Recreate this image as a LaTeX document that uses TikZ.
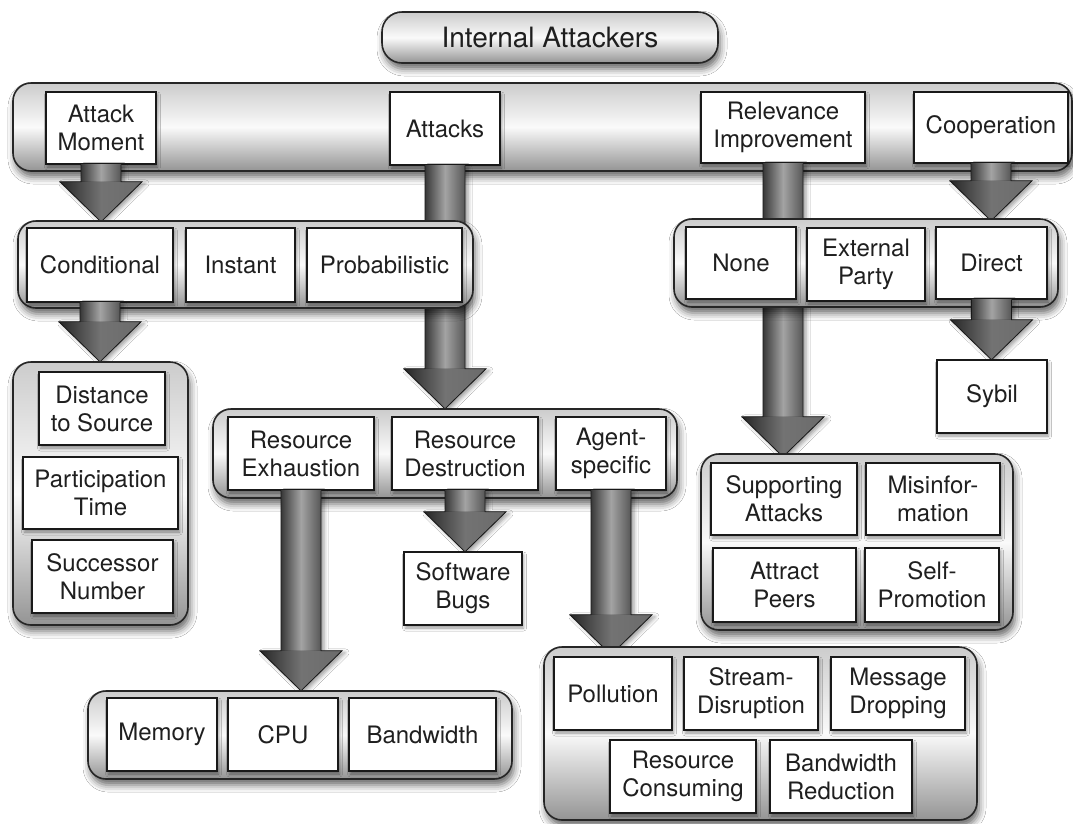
\documentclass[tikz,border=0pt]{standalone}
\usepackage{fontspec}
\newfontfamily\labelfont{TeX Gyre Heros}
\usetikzlibrary{calc,shadows.blur}

\tikzset{
  sz/.style 2 args={minimum width=#1pt, minimum height=#2pt},
  slot/.style={inner sep=0pt, draw=none, fill=none},
  barshadow/.style={blur shadow={shadow xshift=2pt, shadow yshift=-6pt,
      shadow blur radius=7pt, shadow opacity=60}},
  boxshadow/.style={blur shadow={shadow xshift=1.5pt, shadow yshift=-3pt,
      shadow blur radius=3pt, shadow opacity=40}},
  arrowshadow/.style={blur shadow={shadow xshift=3pt, shadow yshift=-2pt,
      shadow blur radius=4pt, shadow opacity=40}},
  panel/.style={barshadow, draw=black!85, line width=1.6pt, rounded corners=18pt,
      top color=black!20, bottom color=black!42, middle color=black!2, inner sep=0pt},
  item/.style={boxshadow, draw=black!90, line width=1.2pt, fill=white, inner sep=0pt,
      align=center, text=black!88, font=\labelfont\fontsize{24}{28}\selectfont},
  shaftfill/.style={left color=black!78, right color=black!66, middle color=black!36},
  headfill/.style={left color=black!85, right color=black!58, middle color=black!55},
  arrowline/.style={draw=black!90, line width=0.8pt, line join=miter},
}

% thick shaded block arrow from the bottom of #2 down to the top of #3
% (optional #1: how far the tip reaches below the top of #3)
\newcommand\blockarrow[3][0pt]{%
  \path let \p1=(#2.south), \p2=(#3.north) in
    coordinate (ba-s) at (\x1,\y1) coordinate (ba-t) at (\x1,{\y2-#1});
  \path[arrowshadow] let \p1=(ba-s), \p2=(ba-t) in
    (\x1-20pt,\y1) -- (\x1-20pt,\y2+40pt) -- (\x1-41pt,\y2+40pt) -- (\x2,\y2)
    -- (\x1+41pt,\y2+40pt) -- (\x1+20pt,\y2+40pt) -- (\x1+20pt,\y1) -- cycle;
  \fill[shaftfill] let \p1=(ba-s), \p2=(ba-t) in
    (\x1-20pt,\y1) rectangle (\x1+20pt,\y2+40pt);
  \fill[headfill] let \p1=(ba-s), \p2=(ba-t) in
    (\x1-41pt,\y2+40pt) -- (\x2,\y2) -- (\x1+41pt,\y2+40pt) -- cycle;
  \draw[arrowline] let \p1=(ba-s), \p2=(ba-t) in
    (\x1-20pt,\y1) -- (\x1-20pt,\y2+40pt) -- (\x1-41pt,\y2+40pt) -- (\x2,\y2)
    -- (\x1+41pt,\y2+40pt) -- (\x1+20pt,\y2+40pt) -- (\x1+20pt,\y1);
}

\begin{document}
\begin{tikzpicture}[x=1pt,y=-1pt]
\fill[white] (0,0) rectangle (1073,823);
\useasboundingbox (0,0) rectangle (1073,823);

% outlines of the arrow targets, so arrows can be drawn before them
\path node[slot, sz={455}{87}]  (leftbar) at (245.5,264.5) {}
      node[slot, sz={384}{88}]  (relbar)  at (866,263) {}
      node[slot, sz={175}{263}] (condbar) at (100.5,493.5) {}
      node[slot, sz={464}{89}]  (midbar)  at (445,453.5) {}
      node[slot, sz={110}{73}]  (sybil)   at (992,396.5) {}
      node[slot, sz={312}{176}] (supbar)  at (857,542) {}
      node[slot, sz={424}{88}]  (membar)  at (300,735) {}
      node[slot, sz={118}{73}]  (bugs)    at (463,588.5) {}
      node[slot, sz={433}{173}] (agbar)   at (760.5,733.5) {};

% ---------- level 1 ----------
\node[panel, sz={336}{51}, rounded corners=20pt, text=black!88,
      font=\labelfont\fontsize{28}{32}\selectfont] (title) at (550,37.5) {Internal Attackers};
\node[panel, sz={1059}{88}] (topbar) at (542.5,127) {};
\node[item, sz={110}{72}] (am)   at (101,128)   {Attack\\Moment};
\node[item, sz={110}{73}] (atk)  at (445,128.5) {Attacks};
\node[item, sz={164}{71}] (rel)  at (783,127.5) {Relevance\\Improvement};
\node[item, sz={154}{71}] (coop) at (991,127.5) {Cooperation};

\blockarrow[1pt]{am}{leftbar}
\blockarrow{atk}{midbar}
\blockarrow[3pt]{rel}{supbar}
\blockarrow[2pt]{coop}{relbar}

% ---------- level 2 ----------
\node[panel, sz={455}{87}] (leftbar) at (245.5,264.5) {};
\node[item, sz={146}{74}] (cond) at (100,265)   {Conditional};
\node[item, sz={109}{74}] (inst) at (240.5,265) {Instant};
\node[item, sz={155}{74}] (prob) at (384.5,265) {Probabilistic};

\node[panel, sz={384}{88}] (relbar) at (866,263) {};
\node[item, sz={110}{72}] (none)   at (741,263)   {None};
\node[item, sz={118}{73}] (ext)    at (866,264.5) {External\\Party};
\node[item, sz={111}{72}] (direct) at (991.5,263) {Direct};

\blockarrow{cond}{condbar}
\blockarrow{direct}{sybil}

% ---------- level 3 ----------
\node[panel, sz={175}{263}] (condbar) at (100.5,493.5) {};
\node[item, sz={126}{73}] (dist) at (102,408.5)  {Distance\\to Source};
\node[item, sz={155}{72}] (part) at (100.5,493)  {Participation\\Time};
\node[item, sz={141}{73}] (succ) at (102.5,576.5){Successor\\Number};

\node[panel, sz={464}{89}] (midbar) at (445,453.5) {};
\node[item, sz={146}{73}] (rex)   at (301,453.5) {Resource\\Exhaustion};
\node[item, sz={146}{73}] (rdes)  at (465,453.5) {Resource\\Destruction};
\node[item, sz={110}{73}] (agent) at (611,453.5) {Agent-\\specific};

\node[item, sz={110}{73}] (sybil) at (992,396.5) {Sybil};

\node[panel, sz={312}{176}] (supbar) at (857,542) {};
\node[item, sz={146}{72}] (supp)    at (784,499)   {Supporting\\Attacks};
\node[item, sz={134}{72}] (misinf)  at (933,499)   {Misinfor-\\mation};
\node[item, sz={143}{74}] (attract) at (784.5,585) {Attract\\Peers};
\node[item, sz={134}{74}] (selfp)   at (932,585)   {Self-\\Promotion};

\blockarrow{rex}{membar}
\blockarrow{rdes}{bugs}
\blockarrow[8pt]{agent}{agbar}

% ---------- level 4 ----------
\node[panel, sz={424}{88}] (membar) at (300,735) {};
\node[item, sz={110}{73}] (mem) at (162,734.5)   {Memory};
\node[item, sz={110}{73}] (cpu) at (283,734.5)   {CPU};
\node[item, sz={147}{73}] (bw)  at (422.5,734.5) {Bandwidth};

\node[item, sz={118}{73}] (bugs) at (463,588.5) {Software\\Bugs};

\node[panel, sz={433}{173}] (agbar) at (760.5,733.5) {};
\node[item, sz={118}{73}] (poll)   at (613,693.5) {Pollution};
\node[item, sz={134}{73}] (stream) at (751,693.5) {Stream-\\Disruption};
\node[item, sz={134}{73}] (msg)    at (898,693.5) {Message\\Dropping};
\node[item, sz={146}{73}] (rcons)  at (683,776.5) {Resource\\Consuming};
\node[item, sz={142}{73}] (bwred)  at (841,776.5) {Bandwidth\\Reduction};
\end{tikzpicture}
\end{document}
